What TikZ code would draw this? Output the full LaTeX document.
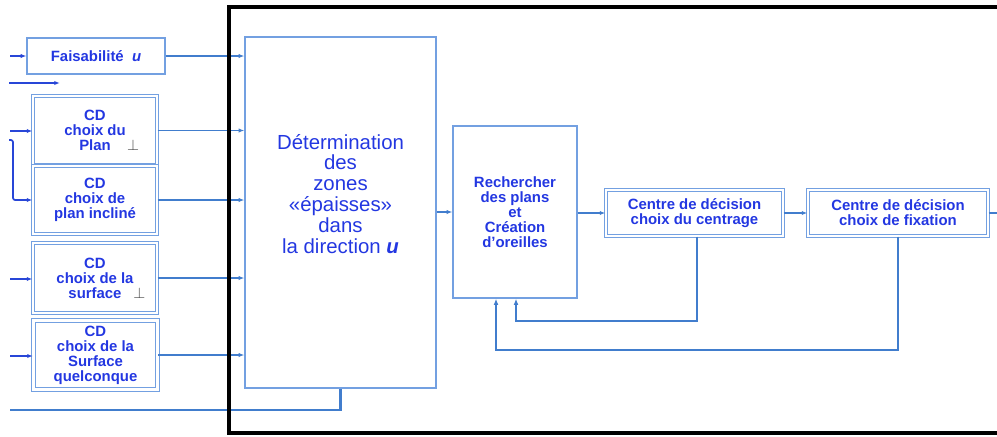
\documentclass[tikz,border=0pt]{standalone}
\usepackage{fontspec}
\setmainfont{Liberation Sans}
\usepackage{tikz}
\usetikzlibrary{arrows.meta,positioning,calc}
\definecolor{txtB}{RGB}{35,55,225}
\definecolor{lineB}{RGB}{65,125,205}
\definecolor{boxB}{RGB}{115,160,225}
\definecolor{inB}{RGB}{40,70,215}

\begin{document}
\begin{tikzpicture}[x=0.025cm,y=-0.025cm,
    smallbox/.style={draw=boxB, line width=0.9pt, align=center, text=txtB,
      font=\fontsize{10.6}{10.6}\selectfont\bfseries, inner sep=0pt},
    cdbox/.style={smallbox, double=white, double distance=1.6pt, line width=0.8pt},
    bigbox/.style={draw=boxB, line width=0.9pt, inner sep=0pt},
    link/.style={lineB, line width=0.9pt, -{Latex[length=4pt,width=3pt]}},
    inlink/.style={inB, line width=1.2pt, -{Latex[length=4pt,width=3pt]}},
    back/.style={lineB, line width=1.7pt},
    backarr/.style={back, -{Latex[length=4.5pt,width=3.5pt]}}]
  \useasboundingbox (0,0) rectangle (997,436);

  % --- left column: inputs ---
  \node[smallbox, minimum width=3.45cm, minimum height=0.9cm] (faisa) at (96,56)
    {Faisabilité\ \ \textit{u}};
  \node[cdbox, minimum width=3.1cm, minimum height=1.72cm] (plan) at (95,130.5)
    {CD\\choix du\\Plan\rlap{\hspace{1.1em}\color{black!75}$\perp$}};
  \node[cdbox, minimum width=3.1cm, minimum height=1.7cm] (incline) at (95,200)
    {CD\\choix de\\plan incliné};
  \node[cdbox, minimum width=3.1cm, minimum height=1.75cm] (surface) at (95,278)
    {CD\\choix de la\\surface\rlap{\hspace{0.8em}\color{black!75}$\perp$}};
  \node[cdbox, minimum width=3.1cm, minimum height=1.72cm] (quelc) at (95.5,355)
    {CD\\choix de la\\Surface\\quelconque};

  % --- centre: big block ---
  \node[bigbox, minimum width=4.775cm, minimum height=8.775cm] (det) at (340.5,212.5) {};
  \node[text=txtB, align=center, font=\fontsize{14.5}{14.9}\selectfont] (dettxt) at (340.5,194)
    {Détermination\\des\\zones\\«épaisses»\\dans\\la direction \textbf{\textit{u}}};

  % --- right: chain ---
  \node[smallbox, minimum width=3.1cm, minimum height=4.3cm] (rech) at (515,212)
    {Rechercher\\des plans\\et\\Création\\d’oreilles};
  \node[cdbox, minimum width=4.425cm, minimum height=1.15cm] (centr) at (694.5,213)
    {Centre de décision\\choix du centrage};
  \node[cdbox, minimum width=4.5cm, minimum height=1.15cm] (fix) at (898,213)
    {Centre de décision\\choix de fixation};

  % incoming arrows
  \coordinate (inF) at (10,56);
  \draw[inlink] (inF) -- (faisa);
  \coordinate (spareA) at (9,83);
  \coordinate (spareB) at (60,83);
  \draw[inlink] (spareA) -- (spareB);
  \coordinate (inP) at (10,131);
  \draw[inlink] (inP) -- (inP -| plan.west);
  \coordinate (brA) at (9,140);
  \coordinate (brB) at (13,200);
  \draw[inlink, rounded corners=1.5pt] (brA) -| (brB) -- (incline.west);
  \coordinate (inS) at (10,279);
  \draw[inlink] (inS) -- (inS -| surface.west);
  \coordinate (inQ) at (10,356);
  \draw[inlink] (inQ) -- (inQ -| quelc.west);

  % into the big block
  \draw[link] (faisa.east) -- (faisa.east -| det.west);
  \foreach \b in {plan,incline,surface,quelc}
    \draw[link] (\b.east) -- (\b.east -| det.west);
  \coordinate (inD) at (10,410);
  \draw[back] (inD) -| (det.south);

  % chain
  \draw[link] (det.east |- rech.west) -- (rech.west);
  \draw[link] (rech.east |- centr.west) -- (centr.west);
  \draw[link] (centr) -- (fix);
  \coordinate (outX) at (1000,213);
  \draw[lineB, line width=0.9pt] (fix.east) -- (outX);

  % feedback loops
  \coordinate (fbA) at (697,321);
  \coordinate (fbB) at (516,321);
  \draw[backarr] (centr.south -| fbA) -- (fbA) -- (fbB) -- (fbB |- rech.south);
  \coordinate (fbC) at (496,350);
  \draw[backarr] (fix.south) |- (fbC) -- (fbC |- rech.south);

  % frame
  \draw[black, line width=2.2pt] (229,7) rectangle (1003,433);
\end{tikzpicture}
\end{document}
